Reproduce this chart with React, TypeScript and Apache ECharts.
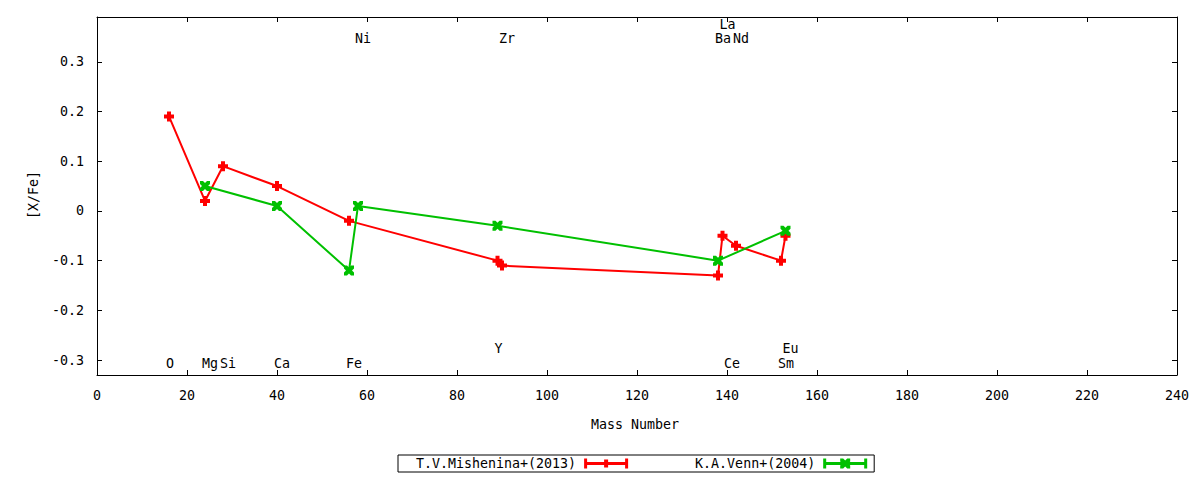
import React, { useEffect, useRef } from "react";
import * as echarts from "echarts";

const misheninaMass = [16, 24, 28, 40, 56, 89, 90, 138, 139, 142, 152, 153];
const misheninaXFe = [0.19, 0.02, 0.09, 0.05, -0.02, -0.10, -0.11, -0.13, -0.05, -0.07, -0.10, -0.05];

const vennMass = [24, 40, 56, 58, 89, 138, 153];
const vennXFe = [0.05, 0.01, -0.12, 0.01, -0.03, -0.10, -0.04];

const elementNames = ["O", "Mg", "Si", "Ca", "Fe", "Ni", "Y", "Zr", "Ba", "La", "Nd", "Ce", "Sm", "Eu"];
const elementMass = [16, 24, 28, 40, 56, 58, 89, 90, 138, 139, 142, 140, 152, 153];
const elementLabelY = [-0.306, -0.306, -0.306, -0.306, -0.306, 0.346, -0.277, 0.346, 0.346, 0.375, 0.346, -0.306, -0.306, -0.277];

const yTicks = [-0.3, -0.2, -0.1, 0, 0.1, 0.2, 0.3];

const FONT = "DejaVu Sans Mono";
const FS = 13.3;
const RED = "#ff0000";
const GREEN = "#00c000";

const plusSymbol = "path://M3,0H7V3H10V7H7V10H3V7H0V3H3Z";
const xSymbol = "path://M0,0H3L5,2L7,0H10V3L8,5L10,7V10H7L5,8L3,10H0V7L2,5L0,3Z";
const legendRed = "path://M0,0H3V10H0Z M41,0H44V10H41Z M0,3.5H44V6.5H0Z M20,1H24V9H20Z";
const legendGreen =
  "path://M0,0H3V10H0Z M41,0H44V10H41Z M0,3.5H44V6.5H0Z M17,0H20L22,2L24,0H27V3L25,5L27,7V10H24L22,8L20,10H17V7L19,5L17,3Z";

export default function App() {
  const ref = useRef<HTMLDivElement>(null);
  useEffect(() => {
    if (!ref.current) return;
    const chart = echarts.init(ref.current, undefined, { renderer: "svg" });
    const redData = misheninaMass.map((m, i) => [m, misheninaXFe[i]]);
    const greenData = vennMass.map((m, i) => [m, vennXFe[i]]);
    const labelData = elementNames.map((n, i) => [elementMass[i], elementLabelY[i], n]);
    const tickCommon = { show: true, inside: true, length: 5, lineStyle: { color: "#000", width: 1 } };
    const lineCommon = { show: true, onZero: false, lineStyle: { color: "#000", width: 1 } };
    chart.setOption({
      animation: false,
      backgroundColor: "#fff",
      textStyle: { fontFamily: FONT, fontSize: FS, color: "#000" },
      grid: { left: 97, right: 23, top: 17, bottom: 105, containLabel: false },
      xAxis: [
        {
          type: "value",
          min: 0,
          max: 240,
          interval: 20,
          position: "bottom",
          axisLine: lineCommon,
          axisTick: tickCommon,
          splitLine: { show: false },
          axisLabel: { fontFamily: FONT, fontSize: FS, color: "#000", margin: 14 },
        },
        {
          type: "value",
          min: 0,
          max: 240,
          interval: 20,
          position: "top",
          axisLine: lineCommon,
          axisTick: tickCommon,
          splitLine: { show: false },
          axisLabel: { show: false },
        },
      ],
      yAxis: [
        {
          type: "value",
          min: -0.33,
          max: 0.39,
          position: "left",
          axisLine: lineCommon,
          axisTick: { ...tickCommon, customValues: yTicks },
          splitLine: { show: false },
          axisLabel: {
            customValues: yTicks,
            fontFamily: FONT,
            fontSize: FS,
            color: "#000",
            margin: 13,
            formatter: (v: number) => (Math.abs(v) < 1e-9 ? "0" : v.toFixed(1)),
          },
        },
        {
          type: "value",
          min: -0.33,
          max: 0.39,
          position: "right",
          axisLine: lineCommon,
          axisTick: { ...tickCommon, customValues: yTicks },
          splitLine: { show: false },
          axisLabel: { show: false },
        },
      ],
      legend: {
        left: 398,
        top: 455,
        orient: "horizontal",
        align: "right",
        borderColor: "#000",
        borderWidth: 1,
        borderRadius: 0,
        padding: [2, 7, 2, 18],
        itemGap: 67,
        itemWidth: 44,
        itemHeight: 10,
        textStyle: { fontFamily: FONT, fontSize: FS, color: "#000", padding: [0, 3, 0, 0] },
        data: [
          { name: "T.V.Mishenina+(2013)", icon: legendRed },
          { name: "K.A.Venn+(2004)", icon: legendGreen },
        ],
      },
      graphic: [
        {
          type: "text",
          x: 635,
          y: 424,
          style: { text: "Mass Number", font: `${FS}px "${FONT}"`, fill: "#000", align: "center", verticalAlign: "middle" },
        },
        {
          type: "text",
          x: 33,
          y: 195,
          rotation: Math.PI / 2,
          style: { text: "[X/Fe]", font: `${FS}px "${FONT}"`, fill: "#000", align: "center", verticalAlign: "middle" },
        },
      ],
      series: [
        {
          name: "T.V.Mishenina+(2013)",
          type: "line",
          xAxisIndex: 0,
          yAxisIndex: 0,
          data: redData,
          color: RED,
          symbol: plusSymbol,
          symbolSize: 10,
          showAllSymbol: true,
          lineStyle: { color: RED, width: 2 },
          itemStyle: { color: RED, borderWidth: 0 },
          z: 3,
        },
        {
          name: "K.A.Venn+(2004)",
          type: "line",
          xAxisIndex: 0,
          yAxisIndex: 0,
          data: greenData,
          color: GREEN,
          symbol: xSymbol,
          symbolSize: 10,
          showAllSymbol: true,
          lineStyle: { color: GREEN, width: 2 },
          itemStyle: { color: GREEN, borderWidth: 0 },
          z: 4,
        },
        {
          name: "elements",
          type: "scatter",
          xAxisIndex: 0,
          yAxisIndex: 0,
          data: labelData,
          symbolSize: 0,
          silent: true,
          itemStyle: { color: "#000", opacity: 1 },
          label: {
            show: true,
            position: [-3, 0],
            align: "left",
            verticalAlign: "middle",
            fontFamily: FONT,
            fontSize: FS,
            lineHeight: 12,
            color: "#000",
            textBorderWidth: 0,
            formatter: (p: any) => p.data[2],
          },
          labelLayout: { hideOverlap: false },
          z: 2,
        },
      ],
    });
    return () => chart.dispose();
  }, []);
  return (
    <div
      ref={ref}
      style={{ position: "fixed", left: 0, top: 0, width: 1200, height: 480, background: "#fff" }}
    />
  );
}
